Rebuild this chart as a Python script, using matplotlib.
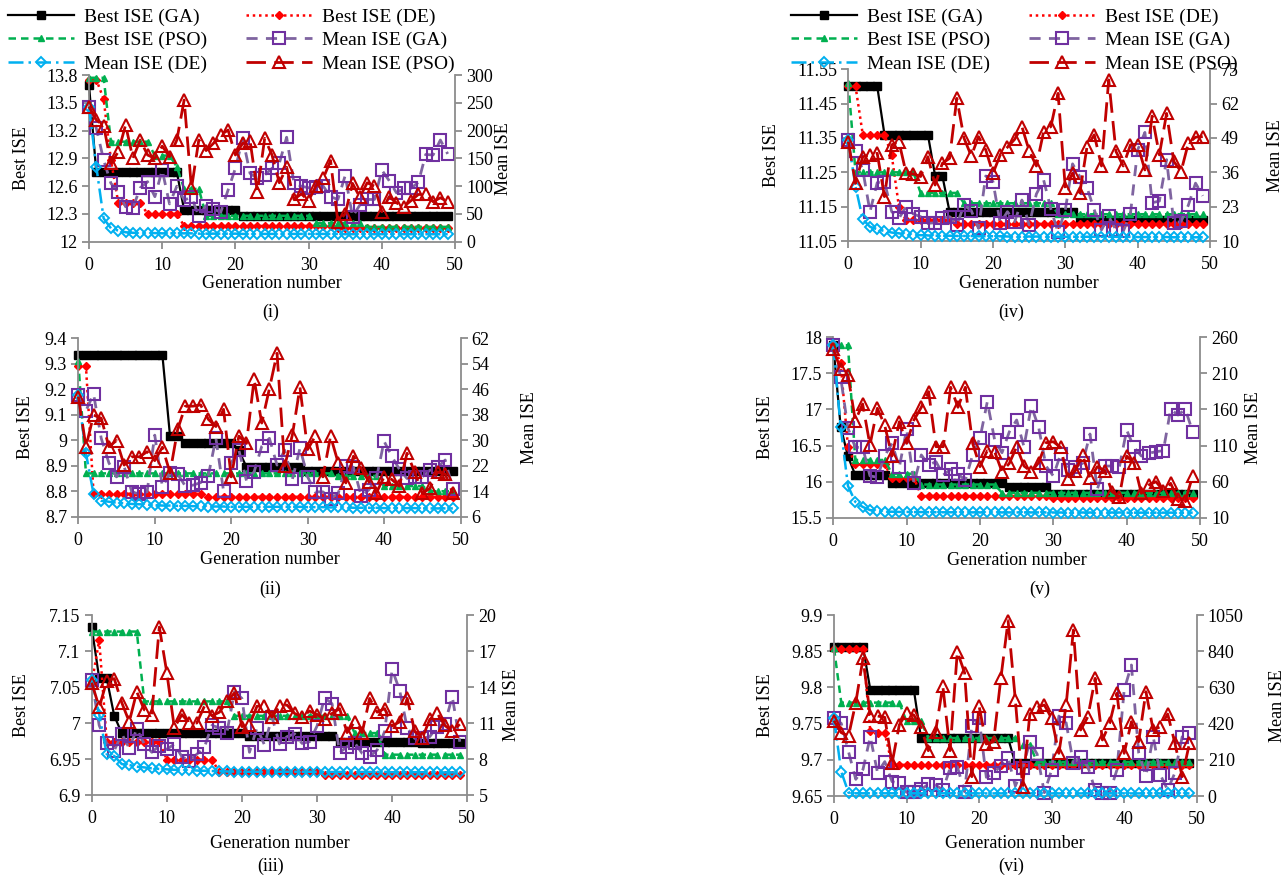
import matplotlib
matplotlib.use("Agg")
import matplotlib.pyplot as plt
from matplotlib.lines import Line2D
from matplotlib.ticker import FuncFormatter
import numpy as np

plt.rcParams['font.family'] = ['Liberation Serif', 'DejaVu Serif']

gens = list(range(50))

# ---- (i) ----
best_ga_i = [13.69, 12.75, 12.75, 12.75, 12.75, 12.75, 12.75, 12.75, 12.75, 12.75,
             12.75, 12.75, 12.75, 12.34, 12.34, 12.34, 12.34, 12.34, 12.34, 12.34,
             12.34, 12.28, 12.28, 12.28, 12.28, 12.28, 12.28, 12.28, 12.28, 12.28,
             12.28, 12.28, 12.28, 12.28, 12.28, 12.28, 12.28, 12.28, 12.28, 12.28,
             12.28, 12.28, 12.28, 12.28, 12.28, 12.28, 12.28, 12.28, 12.28, 12.28]
best_de_i = [13.75, 13.75, 13.54, 12.88, 12.42, 12.42, 12.42, 12.42, 12.30, 12.30,
             12.30, 12.30, 12.30, 12.17, 12.17, 12.17, 12.17, 12.17, 12.17, 12.17,
             12.17, 12.17, 12.17, 12.17, 12.17, 12.17, 12.17, 12.17, 12.17, 12.17,
             12.17, 12.17, 12.17, 12.17, 12.15, 12.15, 12.15, 12.15, 12.15, 12.15,
             12.15, 12.15, 12.15, 12.15, 12.15, 12.15, 12.15, 12.15, 12.15, 12.15]
best_pso_i = [13.77, 13.77, 13.77, 13.08, 13.08, 13.08, 13.08, 13.08, 13.08, 12.93,
              12.93, 12.93, 12.81, 12.57, 12.57, 12.57, 12.28, 12.28, 12.28, 12.28,
              12.28, 12.28, 12.28, 12.28, 12.28, 12.28, 12.28, 12.28, 12.28, 12.28,
              12.28, 12.20, 12.20, 12.20, 12.20, 12.20, 12.20, 12.20, 12.16, 12.16,
              12.16, 12.16, 12.16, 12.16, 12.16, 12.16, 12.16, 12.16, 12.16, 12.16]
mean_ga_i = [243, 204, 147, 105, 90, 63, 61, 97, 108, 81,
             129, 68, 100, 75, 80, 46, 65, 59, 53, 93,
             132, 186, 123, 114, 120, 132, 141, 188, 105, 100,
             97, 99, 100, 81, 76, 119, 45, 66, 76, 76,
             129, 110, 88, 96, 96, 107, 157, 156, 183, 158]
mean_de_i = [243, 135, 42, 24, 20, 17, 16, 16, 15.5, 15.5,
             15, 15, 15, 15, 15, 14.5, 14.5, 14.5, 14.5, 14.5,
             14.5, 14, 14, 14, 14, 14, 14, 14, 14, 14,
             14, 14, 14, 14, 14, 13.5, 13.5, 13.5, 13.5, 13.5,
             13.5, 13.5, 13.5, 13.5, 13.5, 13.5, 13.5, 13.5, 13.5, 13.5]
mean_pso_i = [243, 219, 209, 141, 162, 210, 150, 183, 156, 150,
              172, 153, 183, 255, 96, 183, 164, 177, 192, 201,
              156, 177, 182, 90, 186, 156, 106, 134, 76, 86,
              74, 100, 114, 146, 36, 50, 105, 80, 106, 100,
              54, 81, 70, 63, 74, 85, 85, 72, 79, 72]

# ---- (ii) ----
best_ga_ii = [9.335, 9.335, 9.335, 9.335, 9.335, 9.335, 9.335, 9.335, 9.335, 9.335,
              9.335, 9.335, 9.016, 9.016, 8.988, 8.988, 8.988, 8.988, 8.988, 8.988,
              8.988, 8.96, 8.895, 8.895, 8.895, 8.895, 8.895, 8.895, 8.895, 8.895,
              8.88, 8.88, 8.88, 8.88, 8.88, 8.88, 8.88, 8.88, 8.88, 8.88,
              8.88, 8.88, 8.88, 8.88, 8.88, 8.88, 8.88, 8.88, 8.88, 8.88]
best_de_ii = [9.29, 9.29, 8.79, 8.79, 8.79, 8.79, 8.79, 8.79, 8.79, 8.79,
              8.79, 8.79, 8.79, 8.79, 8.79, 8.79, 8.79, 8.778, 8.778, 8.778,
              8.778, 8.778, 8.778, 8.778, 8.778, 8.778, 8.778, 8.778, 8.778, 8.778,
              8.778, 8.778, 8.778, 8.778, 8.778, 8.778, 8.778, 8.778, 8.778, 8.778,
              8.778, 8.778, 8.778, 8.778, 8.778, 8.778, 8.778, 8.778, 8.778, 8.778]
best_pso_ii = [9.31, 8.87, 8.87, 8.87, 8.87, 8.87, 8.87, 8.87, 8.87, 8.87,
               8.87, 8.87, 8.87, 8.87, 8.87, 8.87, 8.87, 8.87, 8.87, 8.87,
               8.87, 8.87, 8.87, 8.87, 8.87, 8.87, 8.87, 8.87, 8.87, 8.87,
               8.87, 8.87, 8.87, 8.87, 8.86, 8.86, 8.86, 8.86, 8.86, 8.86,
               8.82, 8.82, 8.82, 8.82, 8.82, 8.82, 8.80, 8.80, 8.80, 8.80]
mean_ga_ii = [44.2, 39.3, 44.5, 30.6, 22.9, 18.5, 21.7, 13.8, 13.1, 13.8,
              31.6, 15.4, 19.6, 19.4, 15.6, 15.9, 16.7, 18.8, 30.6, 14.1,
              22.9, 26.9, 17.3, 20.1, 28.1, 30.6, 22.2, 26.9, 17.7, 27.5,
              18.5, 13.8, 13.8, 11.7, 13.3, 21.9, 21.5, 12.6, 14.4, 18.0,
              29.7, 25.0, 20.9, 18.0, 18.5, 18.5, 20.6, 21.5, 23.8, 14.6]
mean_de_ii = [44.2, 25.9, 13.1, 11.0, 10.7, 10.4, 10.2, 10.0, 9.9, 9.8,
              9.6, 9.5, 9.5, 9.4, 9.4, 9.3, 9.3, 9.2, 9.2, 9.2,
              9.1, 9.1, 9.1, 9.1, 9.1, 9.1, 9.1, 9.1, 9.1, 9.1,
              9.0, 9.0, 9.0, 8.9, 8.9, 8.9, 8.8, 8.8, 8.8, 8.8,
              8.7, 8.7, 8.7, 8.7, 8.7, 8.6, 8.6, 8.6, 8.6, 8.6]
mean_pso_ii = [43.7, 28.0, 37.9, 36.9, 28.0, 29.9, 22.2, 24.8, 24.8, 26.4,
               23.6, 27.8, 19.8, 33.4, 40.7, 40.7, 41.1, 36.6, 34.3, 39.7,
               18.5, 31.3, 29.0, 49.1, 35.4, 46.2, 57.3, 21.9, 31.6, 46.6,
               27.1, 31.3, 18.5, 31.3, 22.9, 16.6, 25.0, 21.2, 17.0, 13.5,
               18.5, 17.7, 15.6, 25.9, 20.1, 13.3, 14.9, 20.1, 19.4, 13.3]

# ---- (iii) ----
best_ga_iii = [7.133, 7.062, 7.062, 7.010, 6.986, 6.986, 6.986, 6.986, 6.986, 6.986,
               6.986, 6.986, 6.986, 6.986, 6.986, 6.986, 6.986, 6.986, 6.986, 6.986,
               6.986, 6.982, 6.982, 6.982, 6.982, 6.982, 6.982, 6.982, 6.982, 6.982,
               6.982, 6.982, 6.982, 6.974, 6.974, 6.974, 6.974, 6.974, 6.974, 6.974,
               6.974, 6.974, 6.974, 6.974, 6.972, 6.972, 6.972, 6.972, 6.972, 6.972]
best_de_iii = [7.055, 7.115, 6.974, 6.974, 6.974, 6.974, 6.974, 6.974, 6.974, 6.974,
               6.949, 6.949, 6.949, 6.949, 6.949, 6.949, 6.949, 6.932, 6.932, 6.932,
               6.932, 6.932, 6.932, 6.932, 6.932, 6.932, 6.932, 6.932, 6.932, 6.932,
               6.932, 6.928, 6.928, 6.928, 6.928, 6.928, 6.928, 6.928, 6.928, 6.928,
               6.928, 6.928, 6.928, 6.928, 6.928, 6.928, 6.928, 6.928, 6.928, 6.928]
best_pso_iii = [7.127, 7.127, 7.127, 7.127, 7.127, 7.127, 7.127, 7.03, 7.03, 7.03,
                7.03, 7.03, 7.03, 7.03, 7.03, 7.03, 7.03, 7.03, 7.03, 7.01,
                7.01, 7.01, 7.01, 7.01, 7.01, 7.01, 7.01, 7.01, 7.01, 7.01,
                7.01, 7.01, 7.01, 7.01, 7.01, 6.986, 6.986, 6.986, 6.986, 6.956,
                6.956, 6.956, 6.956, 6.956, 6.956, 6.956, 6.956, 6.956, 6.956, 6.956]
mean_ga_iii = [14.6, 10.8, 9.3, 8.7, 10.1, 8.9, 10.5, 9.25, 8.56, 9.1,
               8.8, 9.25, 8.2, 7.86, 8.4, 8.97, 10.8, 10.6, 10.2, 13.6,
               13.05, 8.56, 10.6, 9.17, 11.5, 9.25, 9.86, 10.1, 9.3, 9.44,
               10.75, 13.1, 12.6, 8.53, 9.03, 9.36, 8.47, 8.2, 8.75, 10.3,
               15.47, 13.7, 10.6, 9.72, 9.72, 9.86, 10.7, 10.9, 13.2, 9.44]
mean_de_iii = [14.6, 11.7, 8.4, 8.25, 7.58, 7.5, 7.36, 7.3, 7.22, 7.17,
               7.14, 7.1, 7.08, 7.06, 7.04, 7.02, 7.0, 6.98, 6.96, 6.95,
               6.94, 6.94, 6.94, 6.94, 6.94, 6.94, 6.94, 6.94, 6.94, 6.94,
               6.92, 6.92, 6.92, 6.92, 6.92, 6.92, 6.92, 6.92, 6.92, 6.92,
               6.9, 6.9, 6.9, 6.9, 6.9, 6.88, 6.88, 6.88, 6.88, 6.88]
mean_pso_iii = [14.36, 12.3, 14.5, 14.7, 12.7, 11.1, 13.6, 12.1, 11.7, 19.0,
                15.2, 10.6, 11.7, 11.0, 11.0, 12.4, 11.6, 11.9, 12.8, 13.5,
                10.7, 10.8, 12.4, 12.4, 11.5, 12.4, 12.5, 11.8, 11.5, 12.0,
                11.7, 11.3, 11.8, 12.2, 10.2, 11.1, 10.2, 13.05, 11.9, 12.2,
                10.75, 11.1, 13.05, 10.3, 9.72, 11.3, 11.8, 10.8, 10.3, 10.9]

# ---- (iv) ----
best_ga_iv = [11.50, 11.50, 11.50, 11.50, 11.50, 11.36, 11.36, 11.36, 11.36, 11.36,
              11.36, 11.36, 11.24, 11.24, 11.135, 11.135, 11.135, 11.135, 11.135, 11.135,
              11.135, 11.135, 11.135, 11.135, 11.135, 11.135, 11.135, 11.135, 11.135, 11.135,
              11.135, 11.135, 11.11, 11.11, 11.11, 11.11, 11.11, 11.11, 11.11, 11.11,
              11.11, 11.11, 11.11, 11.11, 11.11, 11.11, 11.11, 11.11, 11.11, 11.11]
best_de_iv = [11.50, 11.50, 11.36, 11.36, 11.36, 11.36, 11.30, 11.15, 11.11, 11.11,
              11.11, 11.11, 11.11, 11.11, 11.11, 11.10, 11.10, 11.10, 11.10, 11.10,
              11.10, 11.10, 11.10, 11.10, 11.10, 11.10, 11.10, 11.10, 11.10, 11.10,
              11.10, 11.10, 11.10, 11.10, 11.10, 11.10, 11.10, 11.10, 11.10, 11.10,
              11.10, 11.10, 11.10, 11.10, 11.10, 11.10, 11.10, 11.10, 11.10, 11.10]
best_pso_iv = [11.51, 11.25, 11.25, 11.25, 11.25, 11.25, 11.25, 11.25, 11.25, 11.25,
               11.19, 11.19, 11.19, 11.19, 11.19, 11.19, 11.16, 11.16, 11.16, 11.16,
               11.16, 11.16, 11.16, 11.16, 11.16, 11.16, 11.16, 11.16, 11.16, 11.128,
               11.128, 11.128, 11.128, 11.128, 11.128, 11.128, 11.128, 11.128, 11.128, 11.128,
               11.128, 11.128, 11.128, 11.128, 11.128, 11.128, 11.128, 11.128, 11.128, 11.128]
mean_ga_iv = [48.2, 44.2, 36.9, 21.1, 32.1, 32.5, 21.1, 18.6, 23.0, 20.2,
              19.2, 16.7, 16.9, 18.6, 19.2, 16.1, 23.6, 21.5, 14.8, 34.6,
              32.5, 16.7, 21.1, 17.3, 25.5, 16.1, 27.8, 33.1, 22.1, 13.3,
              21.8, 39.2, 34.4, 30.2, 21.8, 14.2, 19.3, 14.2, 13.6, 20.3,
              44.5, 51.1, 24.5, 25.1, 40.8, 16.8, 17.4, 23.5, 31.9, 27.1]
mean_de_iv = [48.2, 30.6, 18.2, 15.4, 14.4, 13.8, 13.2, 12.9, 12.5, 12.3,
              12.2, 12.1, 12.0, 12.0, 12.0, 11.9, 11.9, 11.9, 11.8, 11.8,
              11.8, 11.8, 11.7, 11.7, 11.7, 11.7, 11.7, 11.6, 11.6, 11.6,
              11.6, 11.6, 11.6, 11.6, 11.6, 11.6, 11.6, 11.6, 11.6, 11.6,
              11.5, 11.5, 11.5, 11.5, 11.5, 11.4, 11.4, 11.4, 11.4, 11.4]
mean_pso_iv = [47.6, 31.8, 41.9, 42.6, 43.2, 26.8, 46.4, 47.6, 35.6, 35.4,
               34.4, 41.9, 31.2, 39.4, 41.3, 64.0, 48.9, 42.2, 49.5, 44.5,
               35.6, 42.6, 45.5, 48.5, 53.3, 44.2, 38.4, 51.4, 53.3, 65.9,
               30.0, 35.7, 28.2, 45.7, 50.2, 38.4, 71.0, 43.9, 38.4, 46.4,
               46.4, 36.9, 57.3, 42.6, 58.3, 40.1, 36.3, 47.0, 49.3, 49.5]

# ---- (v) ----
best_ga_v = [17.89, 16.76, 16.35, 16.09, 16.09, 16.09, 16.09, 16.09, 15.985, 15.985,
             15.985, 15.985, 15.985, 15.985, 15.985, 15.985, 15.985, 15.985, 15.985, 15.985,
             15.985, 15.985, 15.985, 15.985, 15.93, 15.93, 15.93, 15.93, 15.93, 15.93,
             15.83, 15.83, 15.83, 15.83, 15.83, 15.83, 15.83, 15.83, 15.83, 15.83,
             15.83, 15.83, 15.83, 15.83, 15.83, 15.83, 15.83, 15.83, 15.83, 15.83]
best_de_v = [17.89, 17.64, 16.48, 16.24, 16.24, 16.24, 16.24, 16.24, 16.05, 16.05,
             16.05, 16.05, 15.80, 15.80, 15.80, 15.80, 15.80, 15.80, 15.80, 15.80,
             15.80, 15.80, 15.80, 15.80, 15.80, 15.80, 15.80, 15.80, 15.80, 15.80,
             15.77, 15.77, 15.77, 15.77, 15.77, 15.77, 15.77, 15.77, 15.77, 15.77,
             15.77, 15.77, 15.77, 15.77, 15.77, 15.77, 15.77, 15.77, 15.77, 15.77]
best_pso_v = [17.89, 17.89, 17.89, 16.30, 16.30, 16.30, 16.30, 16.30, 16.11, 16.11,
              16.11, 16.11, 15.96, 15.96, 15.96, 15.96, 15.96, 15.96, 15.96, 15.96,
              15.96, 15.96, 15.96, 15.845, 15.845, 15.845, 15.845, 15.845, 15.845, 15.845,
              15.845, 15.845, 15.845, 15.845, 15.845, 15.845, 15.845, 15.845, 15.845, 15.845,
              15.845, 15.845, 15.845, 15.845, 15.845, 15.845, 15.845, 15.845, 15.845, 15.845]
mean_ga_v = [249, 205, 134, 107.5, 107.5, 68, 66, 95.5, 113, 80,
             132.5, 57.6, 97, 83, 87.6, 69.2, 77, 70.5, 62.2, 97,
             120, 170.8, 117.7, 100, 129, 145.4, 108.4, 164.8, 135.3, 81.6,
             67.8, 98.3, 76.1, 80.7, 85.4, 126, 49.4, 81.6, 81.6, 79.8,
             131.5, 107.5, 95.5, 99.2, 101.5, 102.9, 160.2, 152.3, 160.2, 129.2]
mean_de_v = [249, 136, 54, 32, 25, 20.6, 19.2, 18.3, 18.3, 18.0,
             18.0, 17.8, 17.8, 17.6, 17.6, 17.5, 17.5, 17.4, 17.4, 17.4,
             17.3, 17.3, 17.3, 17.3, 17.3, 17.3, 17.3, 17.3, 17.3, 17.3,
             17.2, 17.2, 17.2, 17.2, 17.2, 17.2, 17.2, 17.2, 17.2, 17.2,
             17.0, 17.0, 17.0, 17.0, 17.0, 17.0, 17.0, 17.0, 17.0, 17.0]
mean_pso_v = [243.4, 215.6, 207.8, 144.5, 167.6, 110.7, 161.6, 138.5, 95.5, 143,
              113, 145.4, 163, 184.7, 108.4, 108.4, 190.7, 163, 190.7, 113,
              80.7, 102.9, 101.5, 73.8, 85.3, 108.4, 81.6, 73.8, 86.2, 114,
              115.3, 107.5, 63.2, 75.2, 96.9, 64.6, 80.7, 75.2, 46.1, 39.1,
              95.5, 85.4, 43.8, 55.3, 59.9, 47.4, 57.6, 35.5, 33.6, 67.8]

# ---- (vi) ----
best_ga_vi = [9.856, 9.856, 9.856, 9.856, 9.856, 9.797, 9.797, 9.797, 9.797, 9.797,
              9.797, 9.797, 9.73, 9.73, 9.73, 9.73, 9.73, 9.73, 9.73, 9.73,
              9.73, 9.73, 9.73, 9.73, 9.73, 9.695, 9.695, 9.695, 9.695, 9.695,
              9.695, 9.695, 9.695, 9.695, 9.695, 9.695, 9.695, 9.695, 9.695, 9.695,
              9.695, 9.695, 9.695, 9.695, 9.695, 9.695, 9.695, 9.695, 9.695, 9.695]
best_de_vi = [9.853, 9.853, 9.853, 9.853, 9.853, 9.74, 9.737, 9.737, 9.693, 9.693,
              9.693, 9.693, 9.693, 9.693, 9.693, 9.693, 9.693, 9.693, 9.693, 9.693,
              9.693, 9.693, 9.693, 9.693, 9.693, 9.693, 9.693, 9.693, 9.693, 9.693,
              9.693, 9.693, 9.693, 9.693, 9.693, 9.693, 9.693, 9.693, 9.693, 9.693,
              9.693, 9.693, 9.693, 9.693, 9.693, 9.693, 9.693, 9.693, 9.693, 9.693]
best_pso_vi = [9.854, 9.779, 9.779, 9.779, 9.779, 9.779, 9.779, 9.779, 9.779, 9.779,
               9.753, 9.753, 9.753, 9.73, 9.73, 9.73, 9.73, 9.73, 9.73, 9.73,
               9.73, 9.73, 9.73, 9.73, 9.73, 9.73, 9.72, 9.72, 9.697, 9.697,
               9.697, 9.697, 9.697, 9.697, 9.697, 9.697, 9.697, 9.697, 9.697, 9.697,
               9.697, 9.697, 9.697, 9.697, 9.697, 9.697, 9.697, 9.697, 9.697, 9.697]
mean_ga_vi = [450, 421.5, 257, 96.7, 155, 344, 135.4, 199.5, 83.4, 73.6,
              21.4, 21.4, 38.7, 67.8, 63.9, 34.9, 160.6, 170, 25.2, 406,
              450.6, 108.3, 131.5, 176, 218.5, 58, 160.6, 315, 243.6, 19.3,
              151, 464, 425.4, 189.5, 228.2, 170.2, 34.8, 19.3, 19.3, 151,
              615, 760, 251.4, 116, 344, 122, 35, 135.4, 344, 363.5]
mean_de_vi = [450.6, 141, 19.3, 15.5, 15.5, 15.5, 15.5, 15.5, 15.5, 15.5,
              15.5, 15.5, 15.5, 15.5, 15.5, 15.5, 15.5, 15.5, 15.5, 15.5,
              15, 15, 15, 15, 15, 15, 15, 15, 15, 15,
              15, 15, 15, 15, 15, 15, 15, 15, 15, 15,
              15, 15, 15, 15, 15, 15, 15, 15, 15, 15]
mean_pso_vi = [437, 367.4, 348, 541.4, 798.6, 464, 464, 456.4, 189.5, 412,
               483.4, 470, 398.4, 263, 373.2, 638.2, 263, 837.3, 715.5, 112,
               522, 301.7, 315.3, 682.6, 1017, 557, 54, 475.7, 514.4, 528,
               450.6, 247.5, 528, 963, 383, 460, 682.6, 325, 421.5, 595.6,
               247.5, 431, 315.3, 605, 383, 402.2, 475.7, 305.8, 112, 305.8]

best_labels = ['Best ISE (GA)', 'Best ISE (DE)', 'Best ISE (PSO)']
mean_labels = ['Mean ISE (GA)', 'Mean ISE (DE)', 'Mean ISE (PSO)']

best_styles = [
    dict(color='black', lw=1.6, ls='-', marker='s', ms=6, mfc='black', mec='black'),
    dict(color='#FF0000', lw=1.8, ls=(0, (1, 1.5)), marker='D', ms=4.2, mfc='#FF0000', mec='#FF0000'),
    dict(color='#00B050', lw=1.8, ls=(0, (3, 2)), marker='^', ms=5, mfc='#00B050', mec='#00B050'),
]
mean_styles = [
    dict(color='#7F64A0', lw=2, ls=(0, (4, 3)), marker='s', ms=8, mfc='none', mec='#7030A0', mew=1.5),
    dict(color='#00B0F0', lw=1.8, ls=(0, (6, 2, 1, 2)), marker='D', ms=5.5, mfc='none', mec='#00B0F0', mew=1.4),
    dict(color='#C00000', lw=2, ls=(0, (7, 3)), marker='^', ms=9, mfc='none', mec='#C00000', mew=1.5),
]

W, H = 1286, 880
GRAY = '#8c8c8c'
fig = plt.figure(figsize=(W / 100, H / 100), dpi=100)


def px_rect(left, top, right, bottom):
    return [left / W, 1 - bottom / H, (right - left) / W, (bottom - top) / H]


def tick_fmt(v, pos):
    return f"{v:.3f}".rstrip('0').rstrip('.')


def draw_panel(rect, best, mean, lticks, rticks, caption, cap_xy, ylab_x, xlab_y):
    left, top, right, bottom = rect
    ax = fig.add_axes(px_rect(*rect))
    ax2 = ax.twinx()
    for ys, st in zip(best, best_styles):
        ax.plot(gens, ys, clip_on=False, **st)
    for ys, st in zip(mean, mean_styles):
        ax2.plot(gens, ys, clip_on=False, **st)

    ax.set_xlim(0, 50)
    ax.set_xticks(range(0, 51, 10))
    ax.set_ylim(lticks[0], lticks[-1])
    ax.set_yticks(lticks)
    ax2.set_ylim(rticks[0], rticks[-1])
    ax2.set_yticks(rticks)
    ax.yaxis.set_major_formatter(FuncFormatter(tick_fmt))
    ax2.yaxis.set_major_formatter(FuncFormatter(tick_fmt))

    for a in (ax, ax2):
        for s in a.spines.values():
            s.set_color(GRAY)
            s.set_linewidth(1.3)
        a.spines['top'].set_visible(False)
        a.tick_params(direction='out', length=5, width=1.3, color=GRAY,
                      labelsize=13, pad=3)
    ax.tick_params(axis='x', pad=6)
    ax.spines['right'].set_visible(False)
    ax2.spines['left'].set_visible(False)
    ax2.spines['bottom'].set_visible(False)

    w, h = right - left, bottom - top
    ax.set_ylabel('Best ISE', fontsize=13, va='center')
    ax.yaxis.set_label_coords((ylab_x[0] - left) / w, 0.5)
    ax2.set_ylabel('Mean ISE', fontsize=13, va='center')
    ax2.yaxis.set_label_coords((ylab_x[1] - left) / w, 0.5)
    ax.set_xlabel('Generation number', fontsize=13, va='center')
    ax.xaxis.set_label_coords(0.5, -(xlab_y - bottom) / h)
    fig.text(cap_xy[0] / W, 1 - cap_xy[1] / H, caption, ha='center', va='center', fontsize=13)


draw_panel((89, 75, 455, 241.7),
           [best_ga_i, best_de_i, best_pso_i], [mean_ga_i, mean_de_i, mean_pso_i],
           np.linspace(12, 13.8, 7), np.linspace(0, 300, 7), '(i)', (271, 312),
           (21, 504), 283)
draw_panel((78.3, 338.3, 460.5, 516.7),
           [best_ga_ii, best_de_ii, best_pso_ii], [mean_ga_ii, mean_de_ii, mean_pso_ii],
           np.linspace(8.7, 9.4, 8), np.linspace(6, 62, 8), '(ii)', (270, 589),
           (25, 530), 560)
draw_panel((91.7, 615, 467.3, 795),
           [best_ga_iii, best_de_iii, best_pso_iii], [mean_ga_iii, mean_de_iii, mean_pso_iii],
           np.linspace(6.9, 7.15, 6), np.linspace(5, 20, 6), '(iii)', (271, 866),
           (22, 512), 843)
draw_panel((848.3, 69.3, 1210, 241),
           [best_ga_iv, best_de_iv, best_pso_iv], [mean_ga_iv, mean_de_iv, mean_pso_iv],
           np.linspace(11.05, 11.55, 6), np.linspace(10, 75, 6), '(iv)', (1011, 312),
           (771, 1276), 283)
draw_panel((833.3, 337.3, 1200, 517.7),
           [best_ga_v, best_de_v, best_pso_v], [mean_ga_v, mean_de_v, mean_pso_v],
           np.linspace(15.5, 18, 6), np.linspace(10, 260, 6), '(v)', (1040, 589),
           (765, 1253), 560)
draw_panel((834, 615, 1196.7, 796),
           [best_ga_vi, best_de_vi, best_pso_vi], [mean_ga_vi, mean_de_vi, mean_pso_vi],
           np.linspace(9.65, 9.9, 6), np.linspace(0, 1050, 6), '(vi)', (1011, 866),
           (765, 1277), 843)

# legend entries: column-major for a 2-column, 3-row block
handles = [Line2D([], [], **st) for st in best_styles + mean_styles]
labels = best_labels + mean_labels
order = [0, 2, 4, 1, 3, 5]
for x0 in (8, 791):
    fig.legend([handles[k] for k in order], [labels[k] for k in order],
               ncol=2, loc='upper left', bbox_to_anchor=(x0 / W, 1 - 8 / H),
               frameon=False, fontsize=14, handlelength=3.4, handletextpad=0.5,
               columnspacing=2.0, labelspacing=0.3, borderpad=0, borderaxespad=0)

fig.savefig('out.png', dpi=100)
